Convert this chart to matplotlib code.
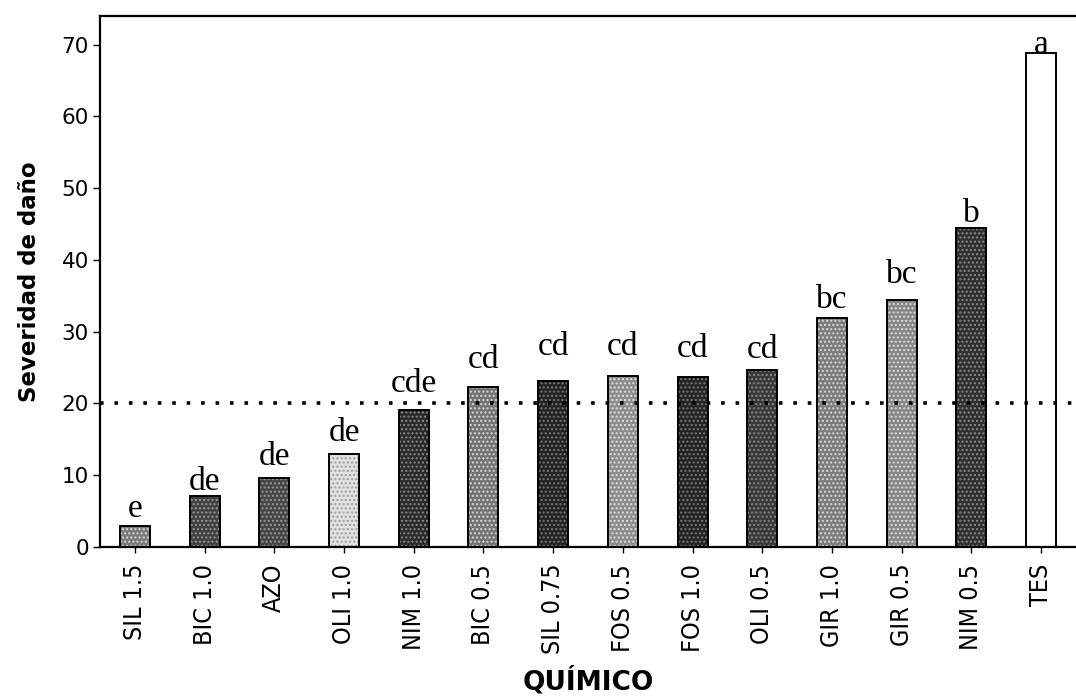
import matplotlib
matplotlib.use("Agg")
import matplotlib.pyplot as plt

# Data
categories = ["SIL 1.5", "BIC 1.0", "AZO", "OLI 1.0", "NIM 1.0", "BIC 0.5", "SIL 0.75",
              "FOS 0.5", "FOS 1.0", "OLI 0.5", "GIR 1.0", "GIR 0.5", "NIM 0.5", "TES"]
severity = [2.9, 7.1, 9.6, 13.0, 19.1, 22.3, 23.1, 23.8, 23.7, 24.6, 31.9, 34.4, 44.5, 68.9]
groups = ["e", "de", "de", "de", "cde", "cd", "cd", "cd", "cd", "cd", "bc", "bc", "b", "a"]
threshold = 20
yticks = [0, 10, 20, 30, 40, 50, 60, 70]

# Styling
bar_colors = ["#7a7a7a", "#404040", "#454545", "#e2e2e2", "#2a2a2a", "#737373", "#222222",
              "#8c8c8c", "#232323", "#383838", "#7c7c7c", "#868686", "#303030", "#ffffff"]
dot_colors = ["#d8d8d8", "#9a9a9a", "#9a9a9a", "#9a9a9a", "#8a8a8a", "#d8d8d8", "#7a7a7a",
              "#e0e0e0", "#7a7a7a", "#8a8a8a", "#d8d8d8", "#e0e0e0", "#8a8a8a", None]
# gap between bar top and letter baseline (data units)
letter_gap = [1.3, 0.8, 1.8, 1.8, 2.5, 2.6, 3.7, 3.0, 2.8, 1.7, 1.4, 2.4, 0.8, -0.1]

fig = plt.figure(figsize=(10.76, 6.98), dpi=100)
ax = fig.add_axes([100 / 1076, 1 - 547 / 698, 976 / 1076, (547 - 16) / 698])

x = list(range(len(categories)))
ax.bar(x, severity, width=0.43, color=bar_colors, edgecolor="none", linewidth=0, zorder=2)
for xi, v, dc in zip(x, severity, dot_colors):
    if dc is not None:
        ax.bar(xi, v, width=0.43, color="none", edgecolor=dc, hatch="....",
               linewidth=0, zorder=2.1)
ax.bar(x, severity, width=0.43, color="none", edgecolor="black", linewidth=1.4, zorder=2.2)

for xi, v, g, gap in zip(x, severity, groups, letter_gap):
    ax.text(xi, v + gap, g, ha="center", va="baseline", fontsize=24,
            family="Liberation Serif", zorder=4)

ax.axhline(threshold, color="black", linewidth=2.6, linestyle=(0, (1, 3)), zorder=3)

ax.set_xlim(-0.5, 13.5)
ax.set_ylim(0, 74)
ax.set_yticks(yticks)
ax.set_yticklabels([str(t) for t in yticks], fontsize=15.5, family="DejaVu Sans")
ax.set_xticks(x)
ax.set_xticklabels(categories, rotation=90, fontsize=18, family="DejaVu Sans",
                   fontstretch="condensed")

ax.tick_params(axis="y", length=5, width=1, pad=3)
ax.tick_params(axis="x", length=4, width=1, pad=8)

for side in ("left", "bottom", "top"):
    ax.spines[side].set_linewidth(1.6)
ax.spines["right"].set_visible(False)

ax.set_ylabel("Severidad de daño", fontsize=16.5, fontweight="bold", family="DejaVu Sans",
              va="center")
ax.yaxis.set_label_coords(-70 / 976, 0.5)
ax.set_xlabel("QUÍMICO", fontsize=19, fontweight="bold", family="DejaVu Sans",
              va="center")
ax.xaxis.set_label_coords(0.5, -(681 - 547) / 531)

fig.savefig("out.png", dpi=100)
